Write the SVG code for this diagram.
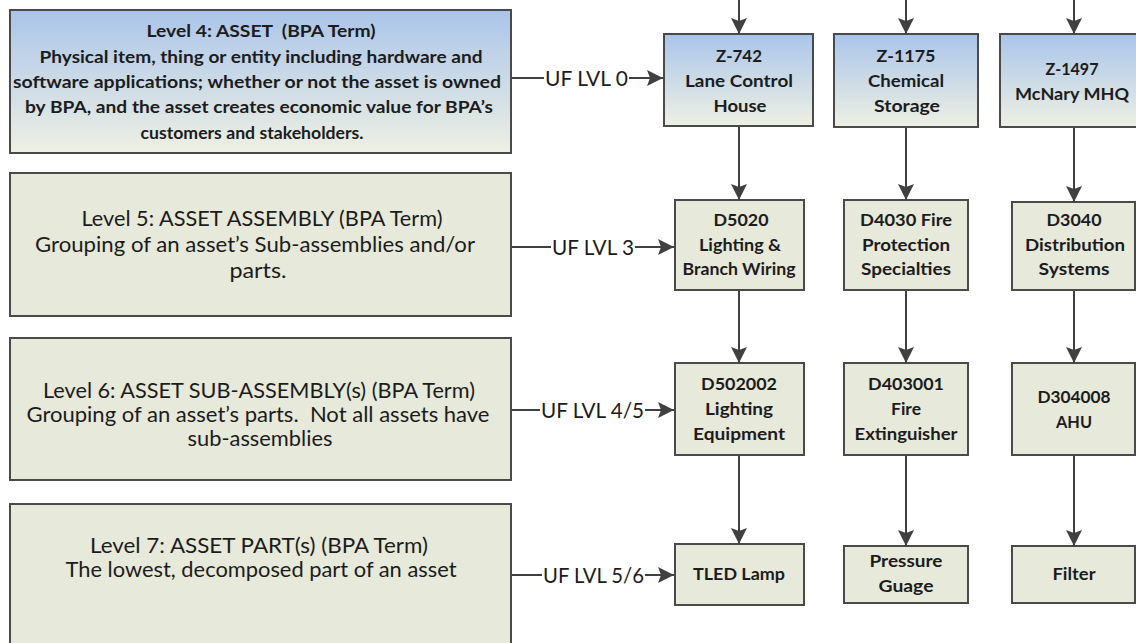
<svg xmlns="http://www.w3.org/2000/svg" width="1136" height="643" viewBox="0 0 1136 643">
<defs>
<linearGradient id="blueGrad" x1="0" y1="0" x2="0" y2="1">
<stop offset="0" stop-color="#aac5ea"/>
<stop offset="1" stop-color="#eef0e3"/>
</linearGradient>
<marker id="arrow" markerUnits="userSpaceOnUse" markerWidth="17" markerHeight="16" refX="16" refY="8" orient="auto" viewBox="0 0 17 16">
<path d="M0,0 L16,8 L0,16 L3,8 z" fill="#404040"/>
</marker>
</defs>
<style>
.blue{fill:url(#blueGrad);stroke:#4a4a4a;stroke-width:2}
.beige{fill:#e7e9da;stroke:#4a4a4a;stroke-width:2}
.lt{font-family:Lato,"Open Sans","Liberation Sans",sans-serif;font-size:21px;fill:#1c1c1c;text-anchor:middle;white-space:pre}
.lb{font-family:Lato,"Open Sans","Liberation Sans",sans-serif;font-size:17px;font-weight:bold;fill:#1c1c1c;text-anchor:middle;white-space:pre}
.nb{font-family:Lato,"Open Sans","Liberation Sans",sans-serif;font-size:17px;font-weight:bold;fill:#1c1c1c;text-anchor:middle}
.cl{font-family:Lato,"Open Sans","Liberation Sans",sans-serif;font-size:21px;fill:#1c1c1c}
.conn{stroke:#404040;stroke-width:2;fill:none}
</style>
<rect width="1136" height="643" fill="#ffffff"/>

<g id="level4">
<rect class="blue" x="10" y="10" width="501" height="143"/>
<text class="lb" x="261" y="37" textLength="229" lengthAdjust="spacingAndGlyphs">Level 4: ASSET  (BPA Term)</text>
<text class="lb" x="261" y="63" textLength="443" lengthAdjust="spacingAndGlyphs">Physical item, thing or entity including hardware and</text>
<text class="lb" x="257" y="88" textLength="488" lengthAdjust="spacingAndGlyphs">software applications; whether or not the asset is owned</text>
<text class="lb" x="259" y="113" textLength="468" lengthAdjust="spacingAndGlyphs">by BPA, and the asset creates economic value for BPA’s</text>
<text class="lb" x="252" y="139" textLength="223" lengthAdjust="spacingAndGlyphs">customers and stakeholders.</text>
</g>

<g id="level5">
<rect class="beige" x="10" y="173" width="501" height="143"/>
<text class="lt" x="262" y="226" textLength="361" lengthAdjust="spacingAndGlyphs">Level 5: ASSET ASSEMBLY (BPA Term)</text>
<text class="lt" x="255" y="252" textLength="440" lengthAdjust="spacingAndGlyphs">Grouping of an asset’s Sub-assemblies and/or</text>
<text class="lt" x="258" y="278" textLength="57" lengthAdjust="spacingAndGlyphs">parts.</text>
</g>

<g id="level6">
<rect class="beige" x="10" y="338" width="501" height="142"/>
<text class="lt" x="259" y="398" textLength="432" lengthAdjust="spacingAndGlyphs">Level 6: ASSET SUB-ASSEMBLY(s) (BPA Term)</text>
<text class="lt" x="258" y="422" textLength="463" lengthAdjust="spacingAndGlyphs">Grouping of an asset’s parts.  Not all assets have</text>
<text class="lt" x="260" y="446" textLength="145" lengthAdjust="spacingAndGlyphs">sub-assemblies</text>
</g>

<g id="level7">
<rect class="beige" x="10" y="504" width="501" height="150"/>
<text class="lt" x="259" y="553" textLength="338" lengthAdjust="spacingAndGlyphs">Level 7: ASSET PART(s) (BPA Term)</text>
<text class="lt" x="261" y="577" textLength="391" lengthAdjust="spacingAndGlyphs">The lowest, decomposed part of an asset</text>
</g>

<g id="z742">
<rect class="blue" x="664" y="34" width="149" height="92"/>
<text class="nb" x="739" y="62" textLength="46" lengthAdjust="spacingAndGlyphs">Z-742</text>
<text class="nb" x="739" y="87" textLength="108" lengthAdjust="spacingAndGlyphs">Lane Control</text>
<text class="nb" x="740" y="112" textLength="53" lengthAdjust="spacingAndGlyphs">House</text>
</g>
<g id="z1175">
<rect class="blue" x="834" y="34" width="144" height="93"/>
<text class="nb" x="906" y="62" textLength="59" lengthAdjust="spacingAndGlyphs">Z-1175</text>
<text class="nb" x="906" y="87" textLength="76" lengthAdjust="spacingAndGlyphs">Chemical</text>
<text class="nb" x="907" y="112" textLength="66" lengthAdjust="spacingAndGlyphs">Storage</text>
</g>
<g id="z1497">
<rect class="blue" x="1000" y="34" width="146" height="93"/>
<text class="nb" x="1072" y="75" textLength="53" lengthAdjust="spacingAndGlyphs">Z-1497</text>
<text class="nb" x="1072" y="100" textLength="114" lengthAdjust="spacingAndGlyphs">McNary MHQ</text>
</g>

<g id="d5020">
<rect class="beige" x="675" y="200" width="129" height="90"/>
<text class="nb" x="741" y="226" textLength="55" lengthAdjust="spacingAndGlyphs">D5020</text>
<text class="nb" x="740" y="251" textLength="82" lengthAdjust="spacingAndGlyphs">Lighting &amp;</text>
<text class="nb" x="739" y="275" textLength="113" lengthAdjust="spacingAndGlyphs">Branch Wiring</text>
</g>
<g id="d4030">
<rect class="beige" x="844" y="200" width="124" height="90"/>
<text class="nb" x="906" y="226" textLength="92" lengthAdjust="spacingAndGlyphs">D4030 Fire</text>
<text class="nb" x="906" y="251" textLength="88" lengthAdjust="spacingAndGlyphs">Protection</text>
<text class="nb" x="906" y="275" textLength="90" lengthAdjust="spacingAndGlyphs">Specialties</text>
</g>
<g id="d3040">
<rect class="beige" x="1012" y="202" width="123" height="88"/>
<text class="nb" x="1074" y="226" textLength="55" lengthAdjust="spacingAndGlyphs">D3040</text>
<text class="nb" x="1075" y="251" textLength="100" lengthAdjust="spacingAndGlyphs">Distribution</text>
<text class="nb" x="1074" y="275" textLength="71" lengthAdjust="spacingAndGlyphs">Systems</text>
</g>

<g id="d502002">
<rect class="beige" x="675" y="363" width="129" height="92"/>
<text class="nb" x="739" y="390" textLength="76" lengthAdjust="spacingAndGlyphs">D502002</text>
<text class="nb" x="739" y="415" textLength="68" lengthAdjust="spacingAndGlyphs">Lighting</text>
<text class="nb" x="739" y="440" textLength="92" lengthAdjust="spacingAndGlyphs">Equipment</text>
</g>
<g id="d403001">
<rect class="beige" x="844" y="363" width="124" height="92"/>
<text class="nb" x="906" y="390" textLength="76" lengthAdjust="spacingAndGlyphs">D403001</text>
<text class="nb" x="906" y="415" textLength="30" lengthAdjust="spacingAndGlyphs">Fire</text>
<text class="nb" x="906" y="440" textLength="103" lengthAdjust="spacingAndGlyphs">Extinguisher</text>
</g>
<g id="d304008">
<rect class="beige" x="1012" y="363" width="123" height="92"/>
<text class="nb" x="1074" y="403" textLength="73" lengthAdjust="spacingAndGlyphs">D304008</text>
<text class="nb" x="1074" y="428" textLength="36" lengthAdjust="spacingAndGlyphs">AHU</text>
</g>

<g id="tled">
<rect class="beige" x="675" y="544" width="129" height="61"/>
<text class="nb" x="739" y="580" textLength="92" lengthAdjust="spacingAndGlyphs">TLED Lamp</text>
</g>
<g id="pressure">
<rect class="beige" x="844" y="546" width="124" height="57"/>
<text class="nb" x="906" y="567" textLength="73" lengthAdjust="spacingAndGlyphs">Pressure</text>
<text class="nb" x="906" y="592" textLength="55" lengthAdjust="spacingAndGlyphs">Guage</text>
</g>
<g id="filter">
<rect class="beige" x="1012" y="546" width="123" height="57"/>
<text class="nb" x="1074" y="580" textLength="43" lengthAdjust="spacingAndGlyphs">Filter</text>
</g>

<g id="connectors">
<line class="conn" x1="739" y1="0" x2="739" y2="34" marker-end="url(#arrow)"/>
<line class="conn" x1="906" y1="0" x2="906" y2="34" marker-end="url(#arrow)"/>
<line class="conn" x1="1074" y1="0" x2="1074" y2="34" marker-end="url(#arrow)"/>
<line class="conn" x1="739" y1="127" x2="739" y2="200" marker-end="url(#arrow)"/>
<line class="conn" x1="906" y1="128" x2="906" y2="200" marker-end="url(#arrow)"/>
<line class="conn" x1="1074" y1="128" x2="1074" y2="202" marker-end="url(#arrow)"/>
<line class="conn" x1="739" y1="291" x2="739" y2="363" marker-end="url(#arrow)"/>
<line class="conn" x1="906" y1="291" x2="906" y2="363" marker-end="url(#arrow)"/>
<line class="conn" x1="1074" y1="291" x2="1074" y2="363" marker-end="url(#arrow)"/>
<line class="conn" x1="739" y1="456" x2="739" y2="544" marker-end="url(#arrow)"/>
<line class="conn" x1="906" y1="456" x2="906" y2="546" marker-end="url(#arrow)"/>
<line class="conn" x1="1074" y1="456" x2="1074" y2="546" marker-end="url(#arrow)"/>

<line class="conn" x1="512" y1="78" x2="544" y2="78"/>
<line class="conn" x1="629" y1="78" x2="663" y2="78" marker-end="url(#arrow)"/>
<text class="cl" x="545" y="86" textLength="83" lengthAdjust="spacingAndGlyphs">UF LVL 0</text>

<line class="conn" x1="512" y1="247" x2="551" y2="247"/>
<line class="conn" x1="635" y1="247" x2="674" y2="247" marker-end="url(#arrow)"/>
<text class="cl" x="552" y="255" textLength="82" lengthAdjust="spacingAndGlyphs">UF LVL 3</text>

<line class="conn" x1="512" y1="410" x2="540" y2="410"/>
<line class="conn" x1="645" y1="410" x2="674" y2="410" marker-end="url(#arrow)"/>
<text class="cl" x="541" y="418" textLength="103" lengthAdjust="spacingAndGlyphs">UF LVL 4/5</text>

<line class="conn" x1="512" y1="575" x2="542" y2="575"/>
<line class="conn" x1="645" y1="575" x2="674" y2="575" marker-end="url(#arrow)"/>
<text class="cl" x="543" y="583" textLength="101" lengthAdjust="spacingAndGlyphs">UF LVL 5/6</text>
</g>
</svg>
